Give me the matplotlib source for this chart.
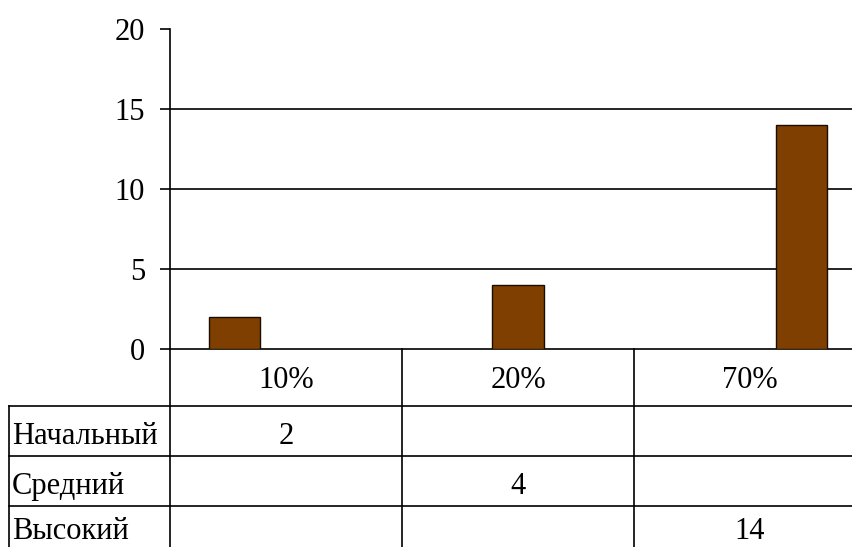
import numpy as np
import matplotlib
matplotlib.use("Agg")
import matplotlib.pyplot as plt

# data
categories = ["10%", "20%", "70%"]
series_names = ["Начальный", "Средний", "Высокий"]
# one value per series, each lives in its own category column
series_values = [
    [2, None, None],
    [None, 4, None],
    [None, None, 14],
]
y_ticks = [0, 5, 10, 15, 20]

plt.rcParams['font.family'] = ['Liberation Serif', 'DejaVu Serif']
fs = 22

W, H = 853, 547
fig = plt.figure(figsize=(W / 100, H / 100), dpi=100)

# plot area (pixel coords from the picture), runs past the right edge
left, right = 170, 866
top, bottom = 29, 349
ax = fig.add_axes([left / W, 1 - bottom / H, (right - left) / W, (bottom - top) / H])

n_cat = len(categories)
n_ser = len(series_names)
# excel style: gap width 150%
bar_w = 1 / (n_ser + 1.5)
offset = 0.75 * bar_w
x = np.arange(n_cat)
for j, vals in enumerate(series_values):
    xs = [x[i] + offset + j * bar_w for i, v in enumerate(vals) if v is not None]
    hs = [v for v in vals if v is not None]
    ax.bar(xs, hs, width=bar_w, align='edge', color='#7f3f00',
           edgecolor='#1a0d00', linewidth=1, zorder=3)

ax.set_xlim(0, n_cat)
ax.set_ylim(y_ticks[0], y_ticks[-1])
ax.set_yticks(y_ticks)
ax.set_xticks([])
for t in y_ticks[1:-1]:
    ax.axhline(t, color='black', linewidth=1.2, zorder=1)
for s in ['top', 'right']:
    ax.spines[s].set_visible(False)
ax.spines['left'].set_linewidth(1.2)
ax.spines['bottom'].set_linewidth(1.2)
ax.tick_params(axis='y', direction='out', length=7, width=1.2, pad=11, labelsize=fs)

# data table under the chart
t_left, t_bottom = 9, 556
header_h = (406 - 349) / 50.0
row_h = 1.0
lab_w = (left - t_left) / ((right - left) / n_cat)
tax = fig.add_axes([t_left / W, 1 - t_bottom / H, (right - t_left) / W, (t_bottom - bottom) / H])
tax.set_xlim(-lab_w, n_cat)
tax.set_ylim(header_h + n_ser * row_h, 0)
tax.axis('off')

lw = 1.2
total_h = header_h + n_ser * row_h
# vertical lines for the category columns
for i in range(n_cat + 1):
    tax.plot([i, i], [0, total_h], color='black', linewidth=lw, clip_on=False)
# left border of the label column
tax.plot([-lab_w, -lab_w], [header_h, total_h], color='black', linewidth=lw, clip_on=False)
# row lines
for r in range(n_ser + 1):
    yy = header_h + r * row_h
    tax.plot([-lab_w, n_cat], [yy, yy], color='black', linewidth=lw, clip_on=False)

# text baselines inside each row (last row is cut by the picture edge)
row_base = [0.76, 0.76, 0.66]
for i, c in enumerate(categories):
    tax.text(i + 0.5, 0.78, c, ha='center', va='baseline', fontsize=fs)
for j, name in enumerate(series_names):
    yb = header_h + j * row_h + row_base[j]
    tax.text(-lab_w + 0.012, yb, name, ha='left', va='baseline', fontsize=fs)
    for i, v in enumerate(series_values[j]):
        if v is not None:
            tax.text(i + 0.5, yb, str(v), ha='center', va='baseline', fontsize=fs)

fig.savefig("out.png", dpi=100)
